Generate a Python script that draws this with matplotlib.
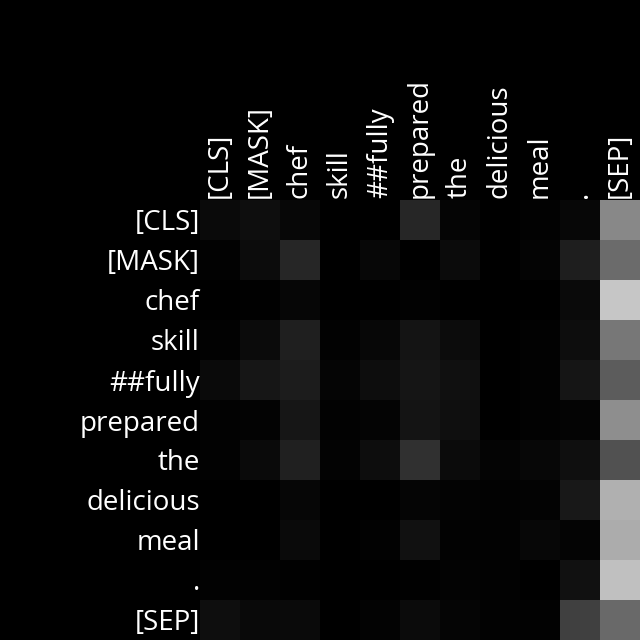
import numpy as np
import matplotlib
matplotlib.use("Agg")
import matplotlib.pyplot as plt

plt.rcParams['font.family'] = ['Open Sans', 'DejaVu Sans']

# Tokens (rows = query, columns = key)
tokens = ["[CLS]", "[MASK]", "chef", "skill", "##fully", "prepared",
          "the", "delicious", "meal", ".", "[SEP]"]

# Attention weights (gray level 0-255)
row_cls = [10, 14, 7, 0, 0, 38, 5, 0, 2, 7, 136]
row_mask = [2, 12, 38, 0, 7, 0, 11, 0, 4, 30, 107]
row_chef = [0, 1, 6, 0, 0, 2, 0, 0, 0, 10, 198]
row_skill = [2, 11, 31, 2, 7, 20, 12, 0, 2, 13, 119]
row_fully = [10, 22, 28, 5, 13, 21, 16, 0, 2, 21, 92]
row_prepared = [2, 3, 22, 2, 4, 20, 15, 0, 2, 4, 142]
row_the = [2, 10, 32, 3, 13, 48, 11, 4, 7, 15, 82]
row_delicious = [0, 0, 6, 0, 0, 5, 3, 2, 3, 24, 176]
row_meal = [0, 0, 10, 0, 2, 17, 2, 2, 7, 4, 172]
row_dot = [2, 2, 1, 0, 0, 1, 3, 2, 0, 17, 192]
row_sep = [14, 9, 10, 0, 3, 11, 5, 2, 2, 64, 106]

attention = np.array([row_cls, row_mask, row_chef, row_skill, row_fully,
                      row_prepared, row_the, row_delicious, row_meal,
                      row_dot, row_sep]) / 255.0

fig = plt.figure(figsize=(6.4, 6.4), dpi=100, facecolor="black")
ax = fig.add_axes([200 / 640, 0, 440 / 640, 440 / 640])
ax.imshow(attention, cmap="gray", vmin=0, vmax=1, aspect="auto",
          interpolation="nearest")

ax.set_xticks(range(len(tokens)))
ax.set_yticks(range(len(tokens)))
ax.set_xticklabels(tokens, rotation=90, fontsize=20, color="white")
ax.set_yticklabels(tokens, fontsize=20, color="white")
ax.xaxis.tick_top()
ax.tick_params(axis="y", length=0, pad=0)
ax.tick_params(axis="x", length=0, pad=1.5)
for s in ax.spines.values():
    s.set_visible(False)

fig.savefig("out.png", dpi=100, facecolor="black")
